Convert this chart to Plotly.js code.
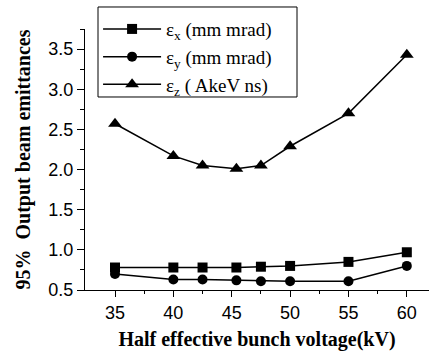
<!DOCTYPE html>
<html>
<head>
<meta charset="utf-8">
<script src="https://cdn.plot.ly/plotly-3.0.1.min.js"></script>
<style>html,body{margin:0;padding:0;background:#fff;}#chart{width:429px;height:357px;}</style>
</head>
<body>
<div id="chart"></div>
<script>
var voltage = [35, 40, 42.5, 45.4, 47.5, 50, 55, 60];
var epsX = [0.78, 0.78, 0.78, 0.78, 0.79, 0.80, 0.85, 0.97];
var epsY = [0.70, 0.63, 0.63, 0.62, 0.61, 0.61, 0.61, 0.80];
var epsZ = [2.57, 2.17, 2.05, 2.01, 2.05, 2.29, 2.70, 3.43];
var seriesNames = ['ε<sub>x</sub> (mm mrad)', 'ε<sub>y</sub> (mm mrad)', 'ε<sub>z</sub> ( AkeV ns)'];
var symbols = ['square', 'circle', 'triangle-up'];
var sizes = [10, 10, 12];
var allY = [epsX, epsY, epsZ];

var serif = 'Liberation Serif';
var sans = 'Liberation Sans';

var traces = allY.map(function (ys, i) {
  return {
    x: voltage, y: ys, name: seriesNames[i], type: 'scatter', mode: 'lines+markers',
    line: {color: '#000', width: 1.5},
    marker: {symbol: symbols[i], size: sizes[i], color: '#000'}
  };
});

var layout = {
  width: 429, height: 357,
  margin: {l: 85, r: 0, t: 29, b: 67},
  paper_bgcolor: '#fff', plot_bgcolor: '#fff',
  font: {family: serif, size: 19, color: '#000'},
  showlegend: true,
  legend: {
    x: 0.038, y: 1.0725, xanchor: 'left', yanchor: 'top',
    borderwidth: 0, bgcolor: 'rgba(0,0,0,0)',
    font: {family: serif, size: 19, color: '#000'},
    itemwidth: 58,
    tracegroupgap: 0
  },
  shapes: [{
    type: 'rect', xref: 'paper', yref: 'paper',
    x0: 0.0378, x1: 0.6163, y0: 0.7395, y1: 1.0843,
    line: {color: '#000', width: 1}, fillcolor: '#fff', layer: 'below'
  }],
  xaxis: {
    range: [32.43, 61.9], tickmode: 'array', tickvals: [35, 40, 45, 50, 55, 60],
    ticks: 'outside', ticklen: 6, tickwidth: 1, tickcolor: '#000',
    showline: true, linecolor: '#000', linewidth: 1, showgrid: false, zeroline: false,
    tickfont: {family: sans, size: 18, color: '#000'},
    minor: {tickvals: [37.5, 42.5, 47.5, 52.5, 57.5], ticks: 'outside', ticklen: 3, tickcolor: '#000', showgrid: false},
    title: {text: 'Half effective bunch voltage(kV)', standoff: 10, font: {family: serif, size: 20, color: '#000', weight: 'bold'}}
  },
  yaxis: {
    range: [0.5, 3.75], tickmode: 'array', tickvals: [0.5, 1.0, 1.5, 2.0, 2.5, 3.0, 3.5],
    ticktext: ['0.5', '1.0', '1.5', '2.0', '2.5', '3.0', '3.5'],
    ticks: 'outside', ticklen: 7, tickwidth: 1, tickcolor: '#000',
    showline: true, linecolor: '#000', linewidth: 1, showgrid: false, zeroline: false,
    tickfont: {family: sans, size: 18, color: '#000'},
    minor: {tickvals: [0.75, 1.25, 1.75, 2.25, 2.75, 3.25, 3.75], ticks: 'outside', ticklen: 4, tickcolor: '#000', showgrid: false},
    title: {text: '95%  Output beam emittances', standoff: 12, font: {family: serif, size: 20, color: '#000', weight: 'bold'}}
  }
};

Plotly.newPlot('chart', traces, layout, {displayModeBar: false, staticPlot: true});
</script>
</body>
</html>
